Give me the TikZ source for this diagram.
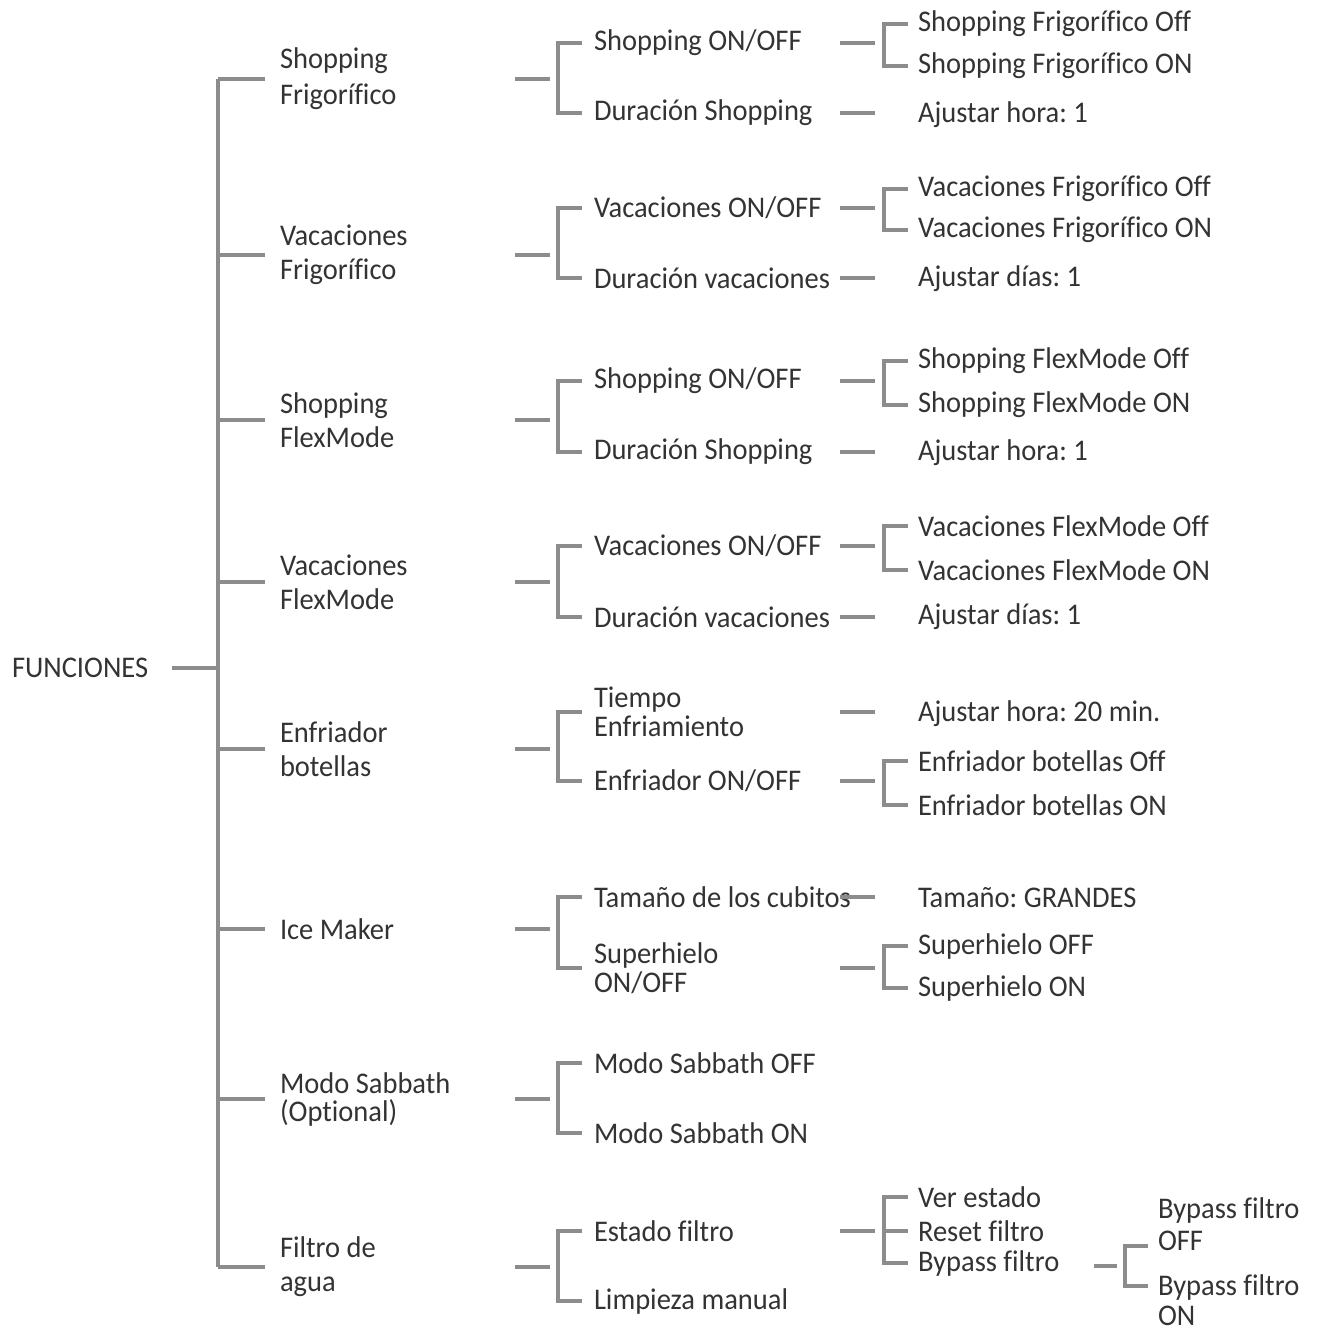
\documentclass[tikz,border=0pt]{standalone}
\usepackage{fontspec}
\setmainfont[FakeStretch=0.95,Ligatures=NoCommon]{Carlito}
\definecolor{linegray}{HTML}{8C8C8C}
\definecolor{txtgray}{HTML}{333333}
\begin{document}
\frenchspacing
\begin{tikzpicture}[x=0.5pt,y=-0.5pt,
  ln/.style={draw=linegray, line width=1.7pt, line join=miter},
  lbl/.style={anchor=west, inner sep=0pt, outer sep=0pt, text=txtgray, align=left,
    font=\fontsize{15}{17}\selectfont},
  tight/.style={font=\fontsize{15}{14.5}\selectfont},
  tighter/.style={font=\fontsize{15}{14}\selectfont}]
\useasboundingbox (0,0) rectangle (1320,1332);
% column coordinates
\coordinate (r0) at (172,0);
\coordinate (spine) at (218,0);
\coordinate (e1) at (265,0);
\coordinate (s2a) at (515,0);
\coordinate (s2b) at (550,0);
\coordinate (k2) at (558,0);
\coordinate (t2) at (582,0);
\coordinate (s3a) at (840,0);
\coordinate (s3b) at (875,0);
\coordinate (k3) at (884,0);
\coordinate (t3) at (908,0);
% root
\node[lbl] (root) at (12,668) {FUNCIONES};
% level 1
\node[lbl,font=\fontsize{15}{18}\selectfont] (a1) at (280,79) {Shopping\\Frigorífico};
\node[lbl] (a2) at (280,255) {Vacaciones\\Frigorífico};
\node[lbl] (a3) at (280,420) {Shopping\\FlexMode};
\node[lbl] (a4) at (280,582) {Vacaciones\\FlexMode};
\node[lbl] (a5) at (280,749) {Enfriador\\botellas};
\node[lbl] (a6) at (280,929) {Ice Maker};
\node[lbl,tighter] (a7) at (280,1099) {Modo Sabbath\\(Optional)};
\node[lbl] (a8) at (280,1267) {Filtro de\\agua};
% level 2
\node[lbl] (b1a) at (594,43) {Shopping ON/OFF};
\node[lbl] (b1b) at (594,113) {Duración Shopping};
\node[lbl] (b2a) at (594,208) {Vacaciones ON/OFF};
\node[lbl] (b2b) at (594,278) {Duración vacaciones};
\node[lbl] (b3a) at (594,381) {Shopping ON/OFF};
\node[lbl] (b3b) at (594,452) {Duración Shopping};
\node[lbl] (b4a) at (594,546) {Vacaciones ON/OFF};
\node[lbl] (b4b) at (594,617) {Duración vacaciones};
\node[lbl,tight] (b5a) at (594,712) {Tiempo\\Enfriamiento};
\node[lbl] (b5b) at (594,781) {Enfriador ON/OFF};
\node[lbl] (b6a) at (594,897) {Tamaño de los cubitos};
\node[lbl,tight] (b6b) at (594,968) {Superhielo\\ON/OFF};
\node[lbl] (b7a) at (594,1063) {Modo Sabbath OFF};
\node[lbl] (b7b) at (594,1133) {Modo Sabbath ON};
\node[lbl] (b8a) at (594,1231) {Estado filtro};
\node[lbl] (b8b) at (594,1301) {Limpieza manual};
% level 3
\node[lbl] (c1a) at (918,24) {Shopping Frigorífico Off};
\node[lbl] (c1b) at (918,66) {Shopping Frigorífico ON};
\node[lbl] (c1c) at (918,115) {Ajustar hora: 1};
\node[lbl] (c2a) at (918,189) {Vacaciones Frigorífico Off};
\node[lbl] (c2b) at (918,230) {Vacaciones Frigorífico ON};
\node[lbl] (c2c) at (918,279) {Ajustar días: 1};
\node[lbl] (c3a) at (918,361) {Shopping FlexMode Off};
\node[lbl] (c3b) at (918,405) {Shopping FlexMode ON};
\node[lbl] (c3c) at (918,453) {Ajustar hora: 1};
\node[lbl] (c4a) at (918,526) {Vacaciones FlexMode Off};
\node[lbl] (c4b) at (918,570) {Vacaciones FlexMode ON};
\node[lbl] (c4c) at (918,617) {Ajustar días: 1};
\node[lbl] (c5a) at (918,714) {Ajustar hora: 20 min.};
\node[lbl] (c5b) at (918,761) {Enfriador botellas Off};
\node[lbl] (c5c) at (918,805) {Enfriador botellas ON};
\node[lbl] (c6a) at (918,898) {Tamaño: GRANDES};
\node[lbl] (c6b) at (918,946) {Superhielo OFF};
\node[lbl] (c6c) at (918,988) {Superhielo ON};
\node[lbl] (c8a) at (918,1197) {Ver estado};
\node[lbl] (c8b) at (918,1231) {Reset filtro};
\node[lbl] (c8c) at (918,1263) {Bypass filtro};
% level 4
\node[lbl,font=\fontsize{15}{16}\selectfont] (d1) at (1158,1224) {Bypass filtro\\OFF};
\node[lbl,font=\fontsize{15}{15}\selectfont] (d2) at (1158,1300) {Bypass filtro\\ON};
\coordinate (d4s) at (1094,1266);
\coordinate (d4e) at (1117,1266);
\coordinate (d4t) at (1148,1246);
\coordinate (d4b) at (1148,1286);
\coordinate (d4kt) at (1125,1246);
\coordinate (d4kb) at (1125,1286);

% root stub and spine
\draw[ln] (root -| r0) -- (root -| spine);
\draw[ln] (a1 -| spine) -- (a8 -| spine);
\foreach \n in {a1,a2,a3,a4,a5,a6,a7,a8}
  \draw[ln] (\n -| spine) -- (\n -| e1);
% level 2 stubs and brackets
\foreach \p/\u/\v in {a1/b1a/b1b,a2/b2a/b2b,a3/b3a/b3b,a4/b4a/b4b,a5/b5a/b5b,a6/b6a/b6b,a7/b7a/b7b,a8/b8a/b8b}{
  \draw[ln] (\p -| s2a) -- (\p -| s2b);
  \draw[ln] (\u -| t2) -- (\u -| k2) -- (\v -| k2) -- (\v -| t2);
}
% level 3 stubs and brackets
\foreach \p/\u/\v in {b1a/c1a/c1b,b2a/c2a/c2b,b3a/c3a/c3b,b4a/c4a/c4b,b5b/c5b/c5c,b6b/c6b/c6c,b8a/c8a/c8c}{
  \draw[ln] (\p -| s3a) -- (\p -| s3b);
  \draw[ln] (\u -| t3) -- (\u -| k3) -- (\v -| k3) -- (\v -| t3);
}
\draw[ln] (c8b -| k3) -- (c8b -| t3);
\foreach \p in {b1b,b2b,b3b,b4b,b5a,b6a}
  \draw[ln] (\p -| s3a) -- (\p -| s3b);
% level 4
\draw[ln] (d4s) -- (d4e);
\draw[ln] (d4t) -- (d4kt) -- (d4kb) -- (d4b);
\end{tikzpicture}
\end{document}
